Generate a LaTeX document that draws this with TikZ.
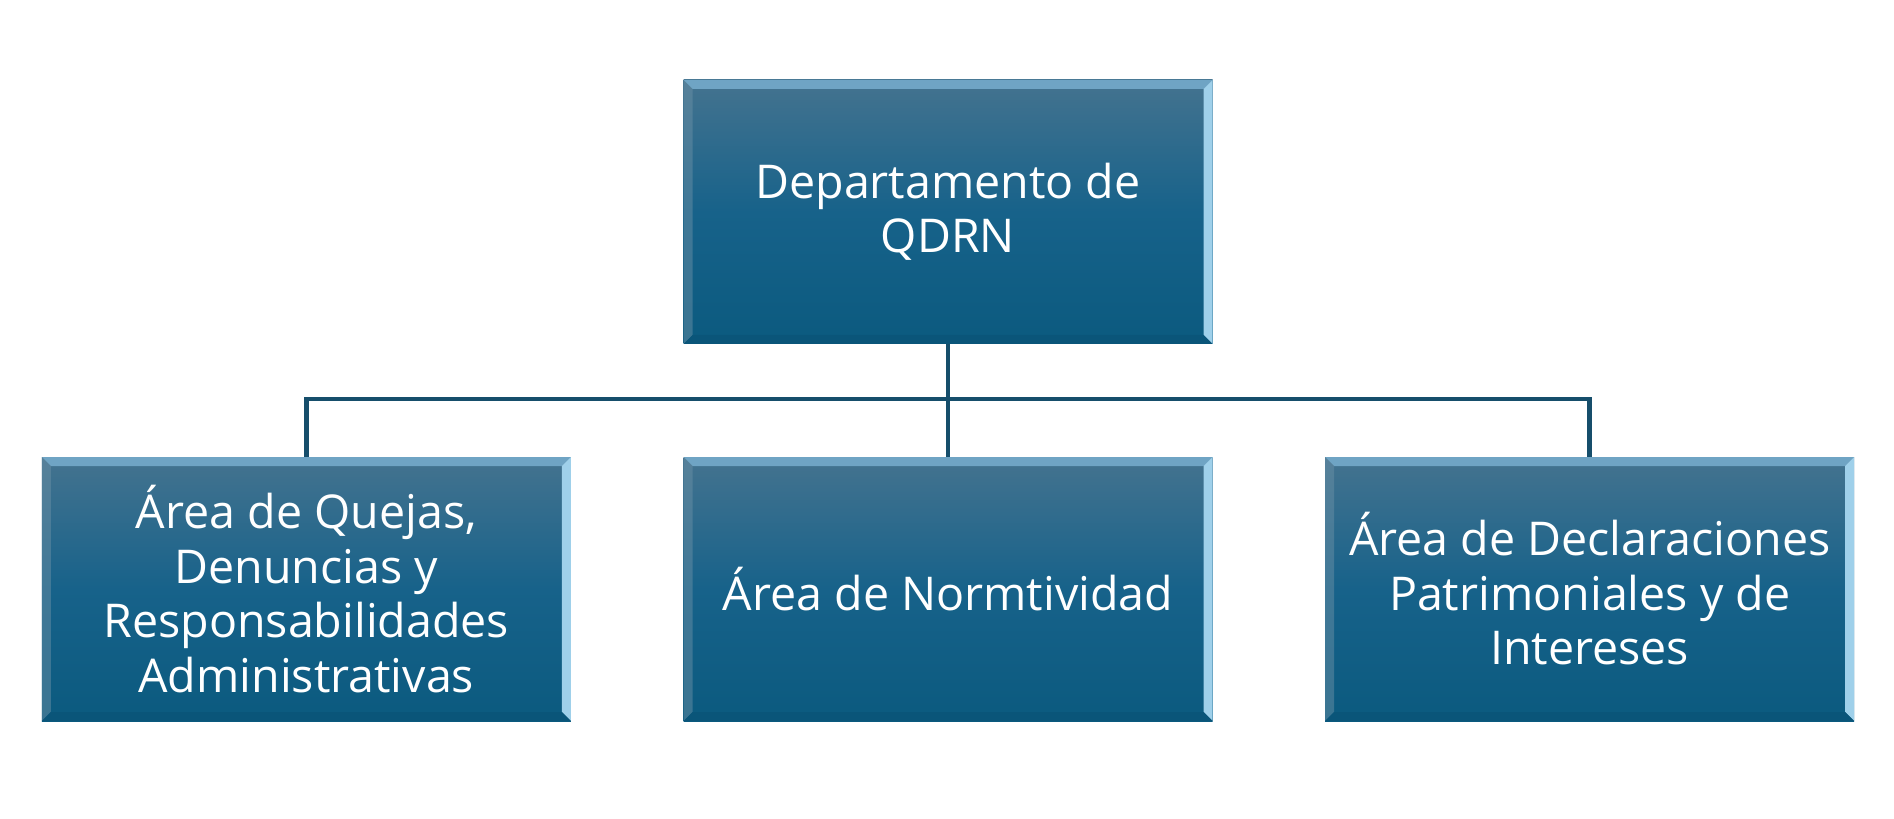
\documentclass[tikz,border=0pt]{standalone}
\usepackage{fontspec}
\setmainfont{Open Sans}
\usetikzlibrary{positioning,calc}
\definecolor{boxtop}{HTML}{44738F}
\definecolor{boxmid}{HTML}{17628A}
\definecolor{boxbot}{HTML}{0B5A7F}
\definecolor{bevlight}{HTML}{9FD0EA}
\definecolor{bevtop}{HTML}{6FA4C4}
\definecolor{linecol}{HTML}{164E6B}
\tikzset{
  orgbox/.style={rectangle, minimum width=10.58cm, minimum height=5.28cm,
    top color=boxtop, bottom color=boxbot, middle color=boxmid, text=white, align=center,
    font=\fontsize{26.5}{31}\selectfont, inner sep=0pt,
    path picture={
      % bevel edges
      \fill[bevtop] (path picture bounding box.north west) -- (path picture bounding box.north east)
        -- ($(path picture bounding box.north east)+(-0.18,-0.18)$) -- ($(path picture bounding box.north west)+(0.18,-0.18)$) -- cycle;
      \fill[bevlight] (path picture bounding box.north east) -- (path picture bounding box.south east)
        -- ($(path picture bounding box.south east)+(-0.18,0.18)$) -- ($(path picture bounding box.north east)+(-0.18,-0.18)$) -- cycle;
      \fill[boxtop!80!white, opacity=.5] (path picture bounding box.north west) -- (path picture bounding box.south west)
        -- ($(path picture bounding box.south west)+(0.18,0.18)$) -- ($(path picture bounding box.north west)+(0.18,-0.18)$) -- cycle;
      \fill[boxbot!95!black] (path picture bounding box.south west) -- (path picture bounding box.south east)
        -- ($(path picture bounding box.south east)+(-0.18,0.18)$) -- ($(path picture bounding box.south west)+(0.18,0.18)$) -- cycle;
    }},
  link/.style={draw=linecol, line width=2.8pt}
}
\begin{document}
\begin{tikzpicture}
  \useasboundingbox (0,0) rectangle (37.88,16.36);
  % chart
  \node[orgbox] (dept) at (18.96,12.12) {Departamento de\\QDRN};
  \node[orgbox] (norm) at (18.96,4.58) {Área de Normtividad};
  \node[orgbox, left=2.24cm of norm] (quejas) {Área de Quejas,\\Denuncias y\\Responsabilidades\\Administrativas};
  \node[orgbox, right=2.24cm of norm] (decl) {Área de Declaraciones\\Patrimoniales y de\\Intereses};
  \coordinate (bus) at (18.96,8.38);
  \draw[link] (dept.south) -- (norm.north);
  \draw[link] (quejas.north) -- (quejas.north |- bus) -- (decl.north |- bus) -- (decl.north);
\end{tikzpicture}
\end{document}
